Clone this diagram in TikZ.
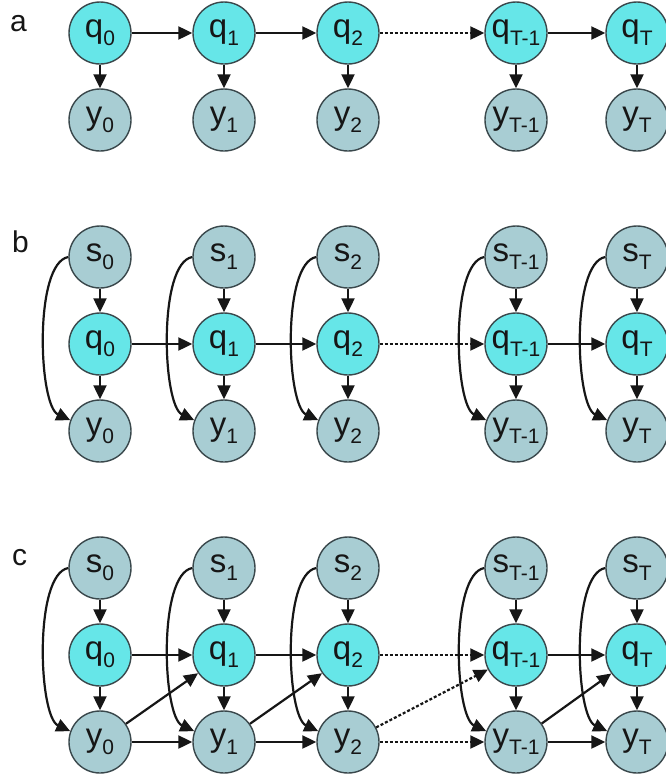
\documentclass[tikz,border=0pt]{standalone}
\usepackage{xcolor}
\usepackage{fontspec}
\setmainfont{Liberation Sans}
\usepackage{tikz}
\usetikzlibrary{positioning,arrows.meta}

\definecolor{hidcyan}{RGB}{102,230,232}
\definecolor{obsgrey}{RGB}{168,205,211}
\definecolor{rimgrey}{RGB}{58,72,76}
\definecolor{inkdark}{RGB}{22,22,22}

\newcommand{\lowsub}[1]{\raisebox{-8pt}{\fontsize{21}{21}\selectfont #1}}

\begin{document}
\begin{tikzpicture}[
    x=1pt, y=1pt,
    node distance=87pt and 124pt, on grid,
    hidden/.style={circle, draw=rimgrey, fill=hidcyan, line width=1.4pt, minimum size=62pt, inner sep=0pt, text=inkdark, font=\fontsize{33}{33}\selectfont},
    observed/.style={hidden, fill=obsgrey},
    panel/.style={anchor=base west, inner sep=0pt, text=inkdark, font=\fontsize{30}{30}\selectfont},
    arrow/.style={->, >={Triangle[length=14pt, width=13pt]}, line width=2.2pt, draw=inkdark},
    dotarrow/.style={arrow, dash pattern=on 3pt off 2pt},
    sideline/.style={arrow, out=190, in=155, looseness=0.55}
]
    \useasboundingbox (0,0) rectangle (665,-774);

    % panel a
    \node[panel] (la) at (10,-31) {a};
    \node[hidden] (qa0) at (100,-33) {q\lowsub{0}};
    \node[hidden, right=of qa0] (qa1) {q\lowsub{1}};
    \node[hidden, right=of qa1] (qa2) {q\lowsub{2}};
    \node[hidden, right=168pt of qa2] (qaTm) {q\lowsub{T-1}};
    \node[hidden, right=121pt of qaTm] (qaT) {q\lowsub{T}};
    \node[observed, below=of qa0] (ya0) {y\lowsub{0}};
    \node[observed, below=of qa1] (ya1) {y\lowsub{1}};
    \node[observed, below=of qa2] (ya2) {y\lowsub{2}};
    \node[observed, below=of qaTm] (yaTm) {y\lowsub{T-1}};
    \node[observed, below=of qaT] (yaT) {y\lowsub{T}};

    \draw[arrow] (qa0) -- (qa1);
    \draw[arrow] (qa1) -- (qa2);
    \draw[dotarrow] (qa2) -- (qaTm);
    \draw[arrow] (qaTm) -- (qaT);
    \draw[arrow] (qa0) -- (ya0);
    \draw[arrow] (qa1) -- (ya1);
    \draw[arrow] (qa2) -- (ya2);
    \draw[arrow] (qaTm) -- (yaTm);
    \draw[arrow] (qaT) -- (yaT);

    % panel b
    \node[panel] (lb) at (12,-252) {b};
    \node[observed] (sb0) at (100,-257) {s\lowsub{0}};
    \node[observed, right=of sb0] (sb1) {s\lowsub{1}};
    \node[observed, right=of sb1] (sb2) {s\lowsub{2}};
    \node[observed, right=168pt of sb2] (sbTm) {s\lowsub{T-1}};
    \node[observed, right=121pt of sbTm] (sbT) {s\lowsub{T}};
    \node[hidden, below=of sb0] (qb0) {q\lowsub{0}};
    \node[hidden, below=of sb1] (qb1) {q\lowsub{1}};
    \node[hidden, below=of sb2] (qb2) {q\lowsub{2}};
    \node[hidden, below=of sbTm] (qbTm) {q\lowsub{T-1}};
    \node[hidden, below=of sbT] (qbT) {q\lowsub{T}};
    \node[observed, below=of qb0] (yb0) {y\lowsub{0}};
    \node[observed, below=of qb1] (yb1) {y\lowsub{1}};
    \node[observed, below=of qb2] (yb2) {y\lowsub{2}};
    \node[observed, below=of qbTm] (ybTm) {y\lowsub{T-1}};
    \node[observed, below=of qbT] (ybT) {y\lowsub{T}};

    \draw[arrow] (sb0) -- (qb0);
    \draw[arrow] (sb1) -- (qb1);
    \draw[arrow] (sb2) -- (qb2);
    \draw[arrow] (sbTm) -- (qbTm);
    \draw[arrow] (sbT) -- (qbT);
    \draw[arrow] (qb0) -- (yb0);
    \draw[arrow] (qb1) -- (yb1);
    \draw[arrow] (qb2) -- (yb2);
    \draw[arrow] (qbTm) -- (ybTm);
    \draw[arrow] (qbT) -- (ybT);
    \draw[arrow] (qb0) -- (qb1);
    \draw[arrow] (qb1) -- (qb2);
    \draw[dotarrow] (qb2) -- (qbTm);
    \draw[arrow] (qbTm) -- (qbT);
    \draw[sideline] (sb0.west) to (yb0.160);
    \draw[sideline] (sb1.west) to (yb1.160);
    \draw[sideline] (sb2.west) to (yb2.160);
    \draw[sideline] (sbTm.west) to (ybTm.160);
    \draw[sideline] (sbT.west) to (ybT.160);

    % panel c
    \node[panel] (lc) at (12,-565) {c};
    \node[observed] (sc0) at (100,-568) {s\lowsub{0}};
    \node[observed, right=of sc0] (sc1) {s\lowsub{1}};
    \node[observed, right=of sc1] (sc2) {s\lowsub{2}};
    \node[observed, right=168pt of sc2] (scTm) {s\lowsub{T-1}};
    \node[observed, right=121pt of scTm] (scT) {s\lowsub{T}};
    \node[hidden, below=of sc0] (qc0) {q\lowsub{0}};
    \node[hidden, below=of sc1] (qc1) {q\lowsub{1}};
    \node[hidden, below=of sc2] (qc2) {q\lowsub{2}};
    \node[hidden, below=of scTm] (qcTm) {q\lowsub{T-1}};
    \node[hidden, below=of scT] (qcT) {q\lowsub{T}};
    \node[observed, below=of qc0] (yc0) {y\lowsub{0}};
    \node[observed, below=of qc1] (yc1) {y\lowsub{1}};
    \node[observed, below=of qc2] (yc2) {y\lowsub{2}};
    \node[observed, below=of qcTm] (ycTm) {y\lowsub{T-1}};
    \node[observed, below=of qcT] (ycT) {y\lowsub{T}};

    \draw[arrow] (sc0) -- (qc0);
    \draw[arrow] (sc1) -- (qc1);
    \draw[arrow] (sc2) -- (qc2);
    \draw[arrow] (scTm) -- (qcTm);
    \draw[arrow] (scT) -- (qcT);
    \draw[arrow] (qc0) -- (yc0);
    \draw[arrow] (qc1) -- (yc1);
    \draw[arrow] (qc2) -- (yc2);
    \draw[arrow] (qcTm) -- (ycTm);
    \draw[arrow] (qcT) -- (ycT);
    \draw[arrow] (qc0) -- (qc1);
    \draw[arrow] (qc1) -- (qc2);
    \draw[dotarrow] (qc2) -- (qcTm);
    \draw[arrow] (qcTm) -- (qcT);
    \draw[arrow] (yc0) -- (yc1);
    \draw[arrow] (yc1) -- (yc2);
    \draw[dotarrow] (yc2) -- (ycTm);
    \draw[arrow] (ycTm) -- (ycT);
    \draw[arrow] (yc0) -- (qc1);
    \draw[arrow] (yc1) -- (qc2);
    \draw[dotarrow] (yc2) -- (qcTm);
    \draw[arrow] (ycTm) -- (qcT);
    \draw[sideline] (sc0.west) to (yc0.160);
    \draw[sideline] (sc1.west) to (yc1.160);
    \draw[sideline] (sc2.west) to (yc2.160);
    \draw[sideline] (scTm.west) to (ycTm.160);
    \draw[sideline] (scT.west) to (ycT.160);
\end{tikzpicture}
\end{document}
